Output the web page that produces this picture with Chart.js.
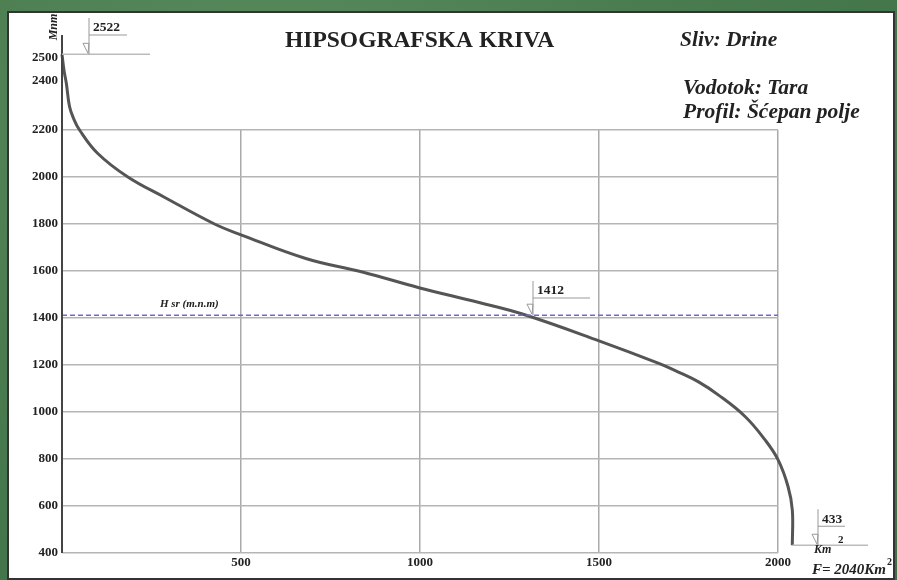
<!DOCTYPE html>
<html>
<head>
<meta charset="utf-8">
<script src="https://cdn.jsdelivr.net/npm/chart.js@4.4.0/dist/chart.umd.min.js"></script>
<style>
  html, body { margin: 0; padding: 0; }
  body {
    width: 897px; height: 580px; overflow: hidden; position: relative;
    background: radial-gradient(ellipse at 30% 20%, #5a8c5e 0%, #4a7c50 45%, #3f7047 100%);
  }
  #panel {
    position: absolute; left: 7px; top: 11px; width: 884px; height: 565px;
    background: #fff; border: 2px solid #333;
  }
  #wrap { position: absolute; left: 0; top: 0; width: 897px; height: 580px; }
</style>
</head>
<body>
<div id="panel"></div>
<div id="wrap"><canvas id="myChart" width="897" height="580"></canvas></div>
<script>
// hypsographic curve, area (km2) vs altitude (m n.m.)
const areaKm2 = [0, 6, 12, 21, 32, 49, 100, 184, 286, 426, 500, 681, 839, 997, 1165, 1286, 1500, 1667, 1722, 1778, 1834, 1908, 1964, 2000, 2028, 2040, 2040];
const heightM = [2522, 2450, 2400, 2300, 2250, 2200, 2100, 2000, 1914, 1800, 1754, 1653, 1596, 1529, 1466, 1417, 1303, 1207, 1170, 1128, 1072, 981, 881, 797, 683, 583, 433];
const meanHeight = 1412;
const extraYTicks = [2400, 2500];
const xTickLabels = [500, 1000, 1500, 2000];

const serif = '"Liberation Serif", "DejaVu Serif", serif';

const curve = areaKm2.map((a, i) => ({ x: a, y: heightM[i] }));
const meanLine = [{ x: 0, y: meanHeight }, { x: 2000, y: meanHeight }];

const extras = {
  id: 'extras',
  afterDraw(chart) {
    const ctx = chart.ctx;
    const x = chart.scales.x, y = chart.scales.y;
    const x0 = x.getPixelForValue(0);
    ctx.save();

    // y axis line, extended above the grid
    ctx.strokeStyle = '#444';
    ctx.lineWidth = 2;
    ctx.beginPath();
    ctx.moveTo(x0, y.getPixelForValue(400));
    ctx.lineTo(x0, 35);
    ctx.stroke();

    // extra y labels above the grid
    ctx.fillStyle = '#222';
    ctx.font = 'bold 13px ' + serif;
    ctx.textAlign = 'right';
    ctx.textBaseline = 'middle';
    extraYTicks.forEach(v => ctx.fillText(String(v), x0 - 4, y.getPixelForValue(v) - 2));

    // axis unit
    ctx.save();
    ctx.translate(54, 27);
    ctx.rotate(-Math.PI / 2);
    ctx.textAlign = 'center';
    ctx.font = 'italic bold 12px ' + serif;
    ctx.fillText('Mnm', 0, 0);
    ctx.restore();

    // title and info
    ctx.textAlign = 'left';
    ctx.font = 'bold 23.5px ' + serif;
    ctx.fillStyle = '#222';
    ctx.fillText('HIPSOGRAFSKA KRIVA', 285, 41);
    ctx.font = 'italic bold 21.5px ' + serif;
    ctx.fillText('Sliv: Drine', 680, 40);
    ctx.fillText('Vodotok: Tara', 683, 88);
    ctx.fillText('Profil: Šćepan polje', 683, 112);

    // marker helper
    function marker(px, py, top, label, lineTo) {
      ctx.strokeStyle = '#999';
      ctx.lineWidth = 1;
      ctx.beginPath();
      ctx.moveTo(px, top); ctx.lineTo(px, py);
      ctx.moveTo(px, top + 17); ctx.lineTo(px + lineTo, top + 17);
      ctx.moveTo(px - 6, py - 11); ctx.lineTo(px, py - 11); ctx.lineTo(px - 1, py - 1); ctx.closePath();
      ctx.stroke();
      ctx.fillStyle = '#222';
      ctx.font = 'bold 13.5px ' + serif;
      ctx.textAlign = 'left';
      ctx.fillText(label, px + 4, top + 10);
    }

    // max height
    const yTop = y.getPixelForValue(2522);
    ctx.strokeStyle = '#bbb';
    ctx.lineWidth = 1.5;
    ctx.beginPath();
    ctx.moveTo(x0, yTop); ctx.lineTo(150, yTop);
    ctx.stroke();
    marker(89, yTop, 18, '2522', 38);

    // mean height
    const yMean = y.getPixelForValue(meanHeight);
    marker(533, yMean, 281, '1412', 57);
    ctx.font = 'italic bold 11px ' + serif;
    ctx.fillStyle = '#222';
    ctx.fillText('H sr (m.n.m)', 160, yMean - 11);

    // min height
    const xEnd = x.getPixelForValue(2040);
    const yMin = y.getPixelForValue(433);
    ctx.strokeStyle = '#bbb';
    ctx.lineWidth = 1.5;
    ctx.beginPath();
    ctx.moveTo(xEnd, yMin); ctx.lineTo(868, yMin);
    ctx.stroke();
    marker(818, yMin, yMin - 36, '433', 27);

    ctx.fillStyle = '#222';
    ctx.font = 'italic bold 12px ' + serif;
    ctx.fillText('Km', 814, yMin + 5);
    ctx.font = 'bold 11px ' + serif;
    ctx.fillText('2', 838, yMin - 5);

    ctx.font = 'italic bold 15px ' + serif;
    const fTxt = 'F= 2040Km';
    ctx.fillText(fTxt, 812, 570);
    const fw = ctx.measureText(fTxt).width;
    ctx.font = 'bold 10px ' + serif;
    ctx.fillText('2', 812 + fw + 1, 562);
    ctx.restore();
  }
};

const config = {
  type: 'line',
  data: {
    datasets: [
      {
        label: 'Hipsografska kriva',
        data: curve,
        borderColor: '#555',
        borderWidth: 3,
        pointRadius: 0,
        tension: 0.4,
        clip: false,
        order: 1
      },
      {
        label: 'H sr',
        data: meanLine,
        borderColor: '#6b6bd6',
        borderWidth: 1.5,
        borderDash: [5, 3],
        pointRadius: 0,
        order: 0
      }
    ]
  },
  options: {
    responsive: false,
    animation: false,
    layout: { padding: { left: 8, top: 130, right: 119, bottom: 0 } },
    plugins: { legend: { display: false }, tooltip: { enabled: false }, title: { display: false } },
    scales: {
      x: {
        type: 'linear',
        // range set after data limits so the curve end beyond 2000 is still drawn
        afterDataLimits(s) { s.min = 0; s.max = 2000; },
        afterFit(s) { s.height = 27; },
        ticks: {
          stepSize: 500,
          padding: 2,
          color: '#222',
          font: { family: serif, size: 13, weight: 'bold' },
          callback: v => xTickLabels.includes(v) ? String(v) : ''
        },
        grid: { color: '#aaa', lineWidth: 1.5, drawTicks: false },
        border: { display: false }
      },
      y: {
        type: 'linear',
        min: 400, max: 2200,
        afterFit(s) { s.width = 54; },
        ticks: {
          stepSize: 200,
          padding: 4,
          color: '#222',
          font: { family: serif, size: 13, weight: 'bold' },
          callback: v => String(v)
        },
        grid: { color: '#b5b5b5', lineWidth: 1.5, drawTicks: false },
        border: { display: false }
      }
    }
  },
  plugins: [extras]
};

const myChart = new Chart(document.getElementById('myChart'), config);
</script>
</body>
</html>
